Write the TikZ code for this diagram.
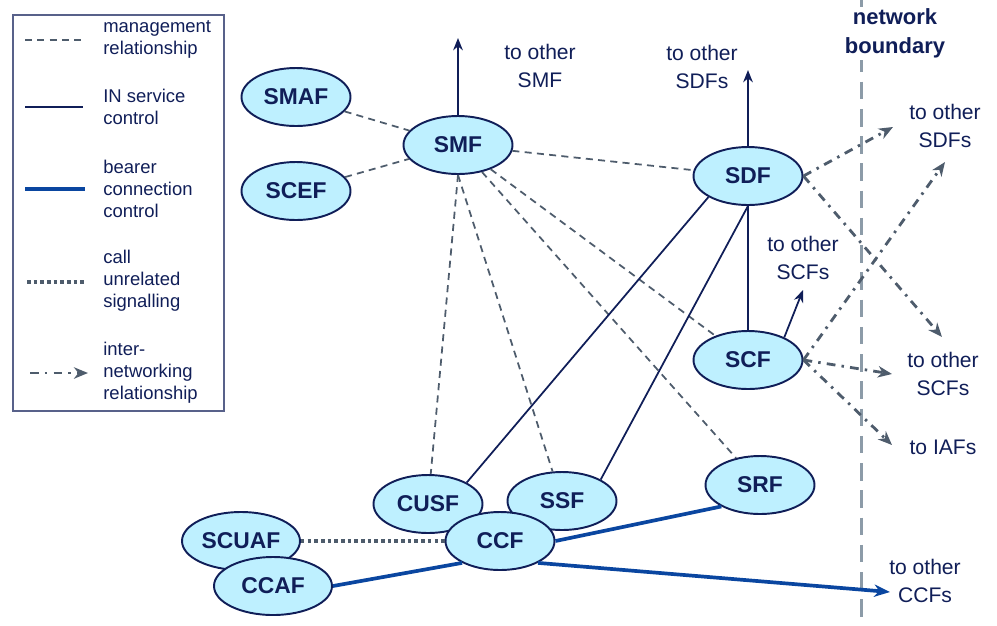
\documentclass[tikz,border=0pt]{standalone}
\usepackage{fontspec}
\setmainfont{Liberation Sans}
\definecolor{darknavy}{RGB}{16,30,88}
\definecolor{fnfill}{RGB}{190,240,255}
\definecolor{bearerblue}{RGB}{10,70,160}
\definecolor{mgmtgray}{RGB}{78,92,108}
\definecolor{boundgray}{RGB}{140,155,168}
\colorlet{navy}{darknavy}
\usetikzlibrary{positioning, arrows.meta, shapes.geometric}

\begin{document}
\begin{tikzpicture}[x=0.2mm, y=-0.2mm,
    fn/.style={ellipse, draw=navy, line width=1.1pt, fill=fnfill, text=navy,
      minimum width=21.8mm, minimum height=11.6mm, inner sep=0pt,
      font=\fontsize{13}{15}\selectfont\bfseries},
    widefn/.style={fn, minimum width=23.6mm},
    lbl/.style={text=navy, align=center, inner sep=1pt,
      font=\fontsize{12}{15.5}\selectfont},
    legtext/.style={text=navy, align=left, anchor=west, inner sep=0pt,
      font=\fontsize{10.5}{12.5}\selectfont},
    mgmt/.style={mgmtgray, line width=1pt, dash pattern=on 4pt off 3pt},
    ctrl/.style={navy, line width=1pt},
    ctrlarrow/.style={ctrl, -{Stealth[length=7pt, width=5.5pt]}},
    bearer/.style={bearerblue, line width=2.1pt},
    bearerarrow/.style={bearer, -{Stealth[length=9pt, width=7pt]}},
    unrel/.style={mgmtgray, line width=2pt, dash pattern=on 2pt off 1.8pt},
    inw/.style={mgmtgray, line width=1.6pt, dash pattern=on 5pt off 3.5pt on 1.4pt off 3.5pt,
      -{Stealth[length=8pt, width=6.5pt, inset=2.5pt]}},
    boundary/.style={boundgray, line width=1.7pt, dash pattern=on 10pt off 5.5pt},
  ]
  \useasboundingbox (0,0) rectangle (997,625);

  % network boundary
  \draw[boundary] (861,0) -- (861,625);
  \node[fill=white, text=navy, align=center, inner sep=1pt,
    font=\fontsize{12.5}{16.5}\selectfont\bfseries] (nb) at (895,33) {network\\boundary};

  % legend
  \draw[navy!70, line width=0.6pt] (13,15) rectangle (224,411);
  \draw[mgmt] (25,40) -- (82,40);
  \node[legtext] (lmgmt) at (103,39) {management\\relationship};
  \draw[ctrl, line width=1.2pt] (25,107) -- (83,107);
  \node[legtext] (lctrl) at (103,107) {IN service\\control};
  \draw[bearer] (25,189) -- (85,189);
  \node[legtext] (lbearer) at (103,189) {bearer\\connection\\control};
  \draw[unrel] (27,282) -- (87,282);
  \node[legtext] (lunrel) at (103,281) {call\\unrelated\\signalling};
  \draw[inw] (30,373) -- (88,373);
  \node[legtext] (linw) at (103,373) {inter-\\networking\\relationship};

  % functional entities
  \node[fn] (smaf) at (296,97) {SMAF};
  \node[fn] (scef) at (296,191) {SCEF};
  \node[fn] (smf) at (458,145) {SMF};
  \node[fn] (sdf) at (748,176) {SDF};
  \node[fn] (scf) at (748,360) {SCF};
  \node[fn] (srf) at (760,485) {SRF};
  \node[widefn] (scuaf) at (241,541) {SCUAF};
  \node[widefn] (ccaf) at (273,586) {CCAF};
  \node[fn] (cusf) at (428,504) {CUSF};
  \node[fn] (ssf) at (562,501) {SSF};
  \node[fn] (ccf) at (500,541) {CCF};

  % outside labels
  \node[lbl] (smflbl) at (540,66) {to other\\SMF};
  \node[lbl] (sdflbl) at (702,67) {to other\\SDFs};
  \node[lbl] (sdfrlbl) at (945,126) {to other\\SDFs};
  \node[lbl] (scfuplbl) at (803,258) {to other\\SCFs};
  \node[lbl] (scfrlbl) at (943,374) {to other\\SCFs};
  \node[lbl] (iaflbl) at (943,447) {to IAFs};
  \node[lbl] (ccflbl) at (925,581) {to other\\CCFs};

  \coordinate (smfout) at (458,38);
  \coordinate (sdfout) at (748,70);
  \coordinate (sdfne) at (893,127);
  \coordinate (sdfse) at (942,337);
  \coordinate (scfup) at (803,290);
  \coordinate (scfne) at (945,162);
  \coordinate (scfe) at (892,374);
  \coordinate (scfse) at (892,445);
  \coordinate (ccfout) at (890,592);

  % management relationships
  \draw[mgmt] (smaf) -- (smf);
  \draw[mgmt] (scef) -- (smf);
  \draw[mgmt] (smf) -- (sdf);
  \draw[mgmt] (smf.south) -- (cusf);
  \draw[mgmt] (smf.south) -- (ssf);
  \draw[mgmt] (smf) -- (scf);
  \draw[mgmt] (smf) -- (srf);

  % IN service control
  \draw[ctrlarrow] (smf.north) -- (smfout);
  \draw[ctrlarrow] (sdf.north) -- (sdfout);
  \draw[ctrl] (sdf.208) -- (cusf.29);
  \draw[ctrl] (sdf.south) -- (ssf.29);
  \draw[ctrl] (sdf.south) -- (scf.north);
  \draw[ctrlarrow] (scf.32) -- (scfup);

  % bearer connection control
  \draw[bearer] (ccaf.east) -- (ccf.210);
  \draw[bearer] (ccf.east) -- (srf.209);
  \draw[bearerarrow] (ccf.330) -- (ccfout);

  % call unrelated signalling
  \draw[unrel] (scuaf.east) -- (ccf.west);

  % internetworking
  \draw[inw] (sdf.east) -- (sdfne);
  \draw[inw] (sdf.east) -- (sdfse);
  \draw[inw] (scf.east) -- (scfne);
  \draw[inw] (scf.east) -- (scfe);
  \draw[inw] (scf.east) -- (scfse);
\end{tikzpicture}
\end{document}
